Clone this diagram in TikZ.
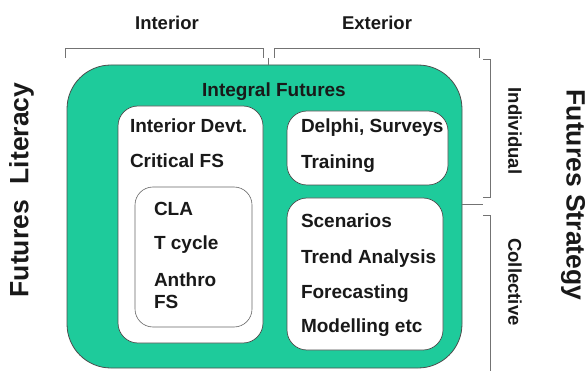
\documentclass[tikz,border=0pt]{standalone}
\usepackage{fontspec}
\setmainfont{Liberation Sans}
\begin{document}
\begin{tikzpicture}[x=1pt,y=-1pt,
  every node/.style={inner sep=0pt, outer sep=0pt},
  item/.style={anchor=base west, font=\fontsize{19}{22}\selectfont\bfseries, text=black!90},
  side/.style={font=\fontsize{18.5}{22}\selectfont\bfseries, text=black!90},
  big/.style={font=\fontsize{26.5}{30}\selectfont\bfseries, text=black!90},
  panel/.style={draw=black!70, line width=0.7pt, fill=white, rounded corners=20pt},
  brace/.style={draw=black!55, line width=0.9pt}
]
\definecolor{teal}{HTML}{1ECB9B}
\useasboundingbox (0,0) rectangle (588,371);

% outer Integral Futures frame
\draw[draw=black!70, line width=0.8pt, fill=teal, rounded corners=44pt] (67,65) rectangle (462,368);
\coordinate (gtop) at (268.5,65);
\coordinate (gright) at (462,204);
\node[anchor=base, font=\fontsize{19}{22}\selectfont\bfseries, text=black!90] (title) at (274,97) {Integral Futures};

% inner panels
\draw[panel] (118,106) rectangle (263,343);
\draw[panel, draw=black!60, line width=0.6pt, rounded corners=18pt] (135,187) rectangle (252,327);
\draw[panel] (287,111) rectangle (448,185);
\draw[panel] (287,198) rectangle (443,350);

% left panel items
\node[item] (idevt) at (130,133) {Interior Devt.};
\node[item] (cfs)   at (130,168) {Critical FS};
\node[item] (cla)   at (154,215) {CLA};
\node[item] (tcyc)  at (154,249) {T cycle};
\node[item] (anth)  at (154,286) {Anthro};
\node[item] (afs)   at (154,308) {FS};

% right panel items
\node[item] (delphi) at (301,133) {Delphi, Surveys};
\node[item] (train)  at (301,169) {Training};
\node[item] (scen)   at (301,227) {Scenarios};
\node[item] (trend)  at (301,263) {Trend Analysis};
\node[item] (fore)   at (301,298) {Forecasting};
\node[item] (model)  at (301,332) {Modelling etc};

% column labels and brackets
\node[side] (interior) at (167,23) {Interior};
\node[side] (exterior) at (377,23) {Exterior};
\draw[brace] (65,58) -- (65,48) -- (263,48) -- (263,58);
\draw[brace] (274,58) -- (274,48) -- (479,48) -- (479,58);
\coordinate (midtop) at (268.5,58);
\draw[brace] (midtop) -- (gtop);

% row labels and brackets
\node[side, rotate=-90] (indiv) at (515,131) {Individual};
\node[side, rotate=-90] (coll)  at (515,282) {Collective};
\draw[brace] (483,59) -- (490,59) -- (490,197) -- (483,197);
\draw[brace] (483,215) -- (490,215) -- (490,375);
\coordinate (midright) at (483,204);
\draw[brace] (gright) -- (midright);

% outer titles
\node[big, rotate=90] (literacy) at (21.5,190) {Futures\hspace{0.6em}Literacy};
\node[big, rotate=-90] (strategy) at (573,195) {Futures Strategy};
\end{tikzpicture}
\end{document}
